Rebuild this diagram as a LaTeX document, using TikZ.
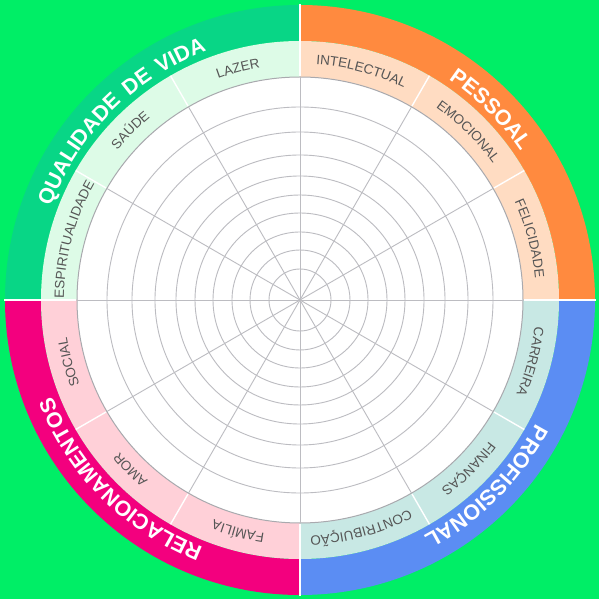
\documentclass[tikz,border=0pt]{standalone}
\usepackage{fontspec}
\setmainfont{Liberation Sans}
\usepackage{tikz}
\usetikzlibrary{decorations.text}

\definecolor{bggreen}{HTML}{00EE66}
\definecolor{vidaband}{HTML}{08D686}
\definecolor{vidaring}{HTML}{DDFBE7}
\definecolor{pessoalband}{HTML}{FF8A3F}
\definecolor{pessoalring}{HTML}{FFDCC2}
\definecolor{profband}{HTML}{5B8DF3}
\definecolor{profring}{HTML}{C8E8E4}
\definecolor{relband}{HTML}{F3007E}
\definecolor{relring}{HTML}{FFD0D8}
\definecolor{gridgray}{HTML}{BCBCC1}
\definecolor{rimgray}{HTML}{A9A9AE}
\definecolor{labelgray}{HTML}{555555}

% label of one 30 degree segment, #1 = middle angle
\newcommand{\seglabel}[2]{%
  \path[decorate, decoration={text along path,
      text={|\fontsize{13.5}{13.5}\selectfont|#2},
      text color=labelgray, text align=center}]
    ({#1+15}:236) arc[start angle={#1+15}, end angle={#1-15}, radius=236];}

% title of one quadrant, #1 = middle angle
\newcommand{\quadtitle}[2]{%
  \path[decorate, decoration={text along path,
      text={|\fontsize{21.5}{21.5}\selectfont\bfseries\spaceskip=9pt|#2},
      text color=white, text align=center}]
    ({#1+45}:266) arc[start angle={#1+45}, end angle={#1-45}, radius=266];}

\begin{document}
\begin{tikzpicture}[
    x=1pt, y=1pt,
    gridline/.style={draw=gridgray, line width=0.9pt},
    divider/.style={draw=white, line width=1.4pt}
]

\useasboundingbox[fill=bggreen] (-300,-299) rectangle (299,300);

% coloured bands and rings
\foreach \a/\band/\ring in {90/vidaband/vidaring, 0/pessoalband/pessoalring,
                            -90/profband/profring, 180/relband/relring} {
  \fill[\band] (\a:295) arc[start angle=\a, end angle={\a+90}, radius=295]
    -- ({\a+90}:259) arc[start angle={\a+90}, end angle=\a, radius=259] -- cycle;
  \fill[\ring] (\a:259) arc[start angle=\a, end angle={\a+90}, radius=259]
    -- ({\a+90}:223) arc[start angle={\a+90}, end angle=\a, radius=223] -- cycle;
}

% wheel grid
\filldraw[fill=white, draw=rimgray, line width=1pt] (0,0) circle[radius=223];
\foreach \r in {31,50,68,87,105,124,145,168,193}
  \draw[gridline] (0,0) circle[radius=\r];
\foreach \t in {0,30,...,330}
  \draw[gridline] (0,0) -- (\t:223);

% white dividers
\foreach \t in {0,30,...,330}
  \draw[divider] (\t:224) -- (\t:259);
\foreach \t in {0,90,180,270}
  \draw[divider] (\t:259) -- (\t:296);

% segment labels
\seglabel{105}{LAZER}
\seglabel{135}{SAÚDE}
\seglabel{165}{ESPIRITUALIDADE}
\seglabel{75}{INTELECTUAL}
\seglabel{45}{EMOCIONAL}
\seglabel{15}{FELICIDADE}
\seglabel{-15}{CARREIRA}
\seglabel{-45}{FINANÇAS}
\seglabel{-75}{CONTRIBUIÇÃO}
\seglabel{-105}{FAMÍLIA}
\seglabel{-135}{AMOR}
\seglabel{-165}{SOCIAL}

% quadrant titles
\quadtitle{135}{QUALIDADE DE VIDA}
\quadtitle{45}{PESSOAL}
\quadtitle{-45}{PROFISSIONAL}
\quadtitle{-135}{RELACIONAMENTOS}

\end{tikzpicture}
\end{document}
